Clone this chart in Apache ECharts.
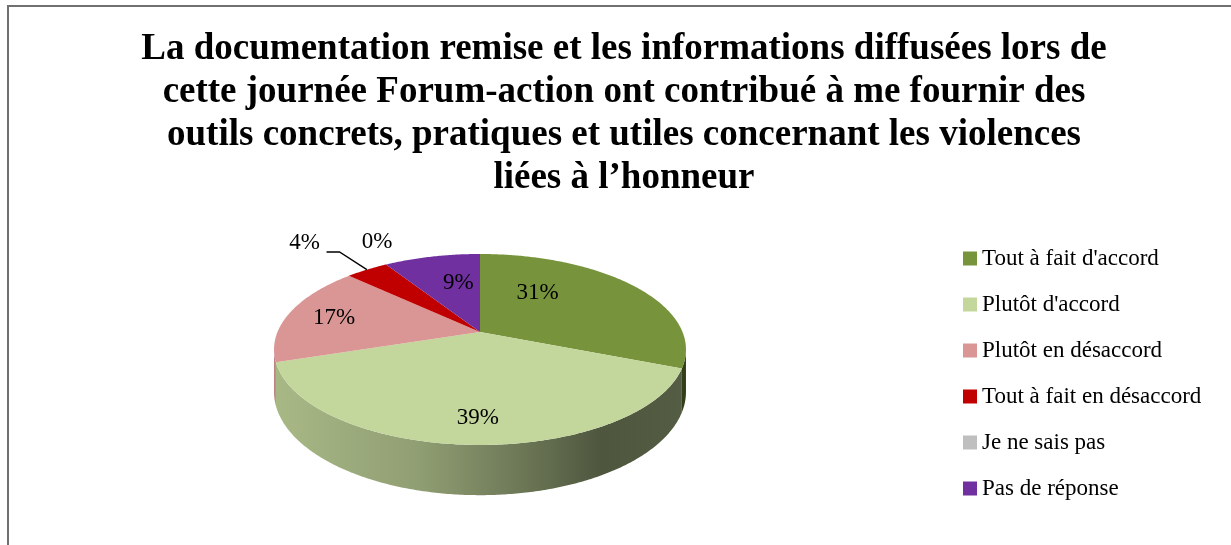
<!DOCTYPE html>
<html>
<head>
<meta charset="utf-8">
<script src="https://cdn.jsdelivr.net/npm/echarts@6/dist/echarts.min.js"></script>
<style>
  html, body { margin: 0; padding: 0; background: #fff; }
  #chart { width: 1231px; height: 545px; }
</style>
</head>
<body>
<div id="chart"></div>
<script>
const titleText = 'La documentation remise et les informations diffusées lors de\ncette journée Forum-action ont contribué à me fournir des\noutils concrets, pratiques et utiles concernant les violences\nliées à l\u2019honneur'
const categories = ["Tout à fait d'accord", "Plutôt d'accord", 'Plutôt en désaccord', 'Tout à fait en désaccord', 'Je ne sais pas', 'Pas de réponse']
const values = [31, 39, 17, 4, 0, 9]
const colors = ['#77933c', '#c3d69b', '#d99694', '#c00000', '#bfbfbf', '#7030a0']
// décalage des étiquettes, comme label.offset
const labelOffsets = [[-37, -10], [2, 24], [-30, -2], [-43, -16], [7, -11], [9, -1]]

const total = values.reduce((a, b) => a + b, 0)
const starts = values.map((_, i) => values.slice(0, i).reduce((a, b) => a + b, 0))

// camembert 3D en perspective (centre, rayons, perspective, épaisseur)
const CX = 480, CY = 332, RX = 202.5, RY = 92.3, P = 0.183, DEPTH = 41
const FONT = 'Liberation Serif'

function project(theta, f) {
  const X = f * Math.sin(theta)
  const V = -f * Math.cos(theta)
  const w = 1 - P * V
  return [CX + RX * X / w, CY + RY * V / w, w]
}

function shade(hex, k) {
  const n = parseInt(hex.slice(1), 16)
  const r = Math.round(((n >> 16) & 255) * k)
  const g = Math.round(((n >> 8) & 255) * k)
  const b = Math.round((n & 255) * k)
  return `rgb(${r},${g},${b})`
}

function sideFill(hex) {
  return {
    type: 'linear', x: CX - RX, y: 0, x2: CX + RX, y2: 0, global: true,
    colorStops: [
      { offset: 0, color: shade(hex, 0.86) },
      { offset: 0.35, color: shade(hex, 0.74) },
      { offset: 0.6, color: shade(hex, 0.56) },
      { offset: 0.8, color: shade(hex, 0.4) },
      { offset: 1, color: shade(hex, 0.43) },
    ],
  }
}

function renderSlice(i) {
  return function (params, api) {
    const v = api.value(0)
    const a0 = starts[i] / total * Math.PI * 2
    const a1 = a0 + v / total * Math.PI * 2
    const children = []

    // flanc visible (avant du disque)
    const tR = Math.acos(-P), tL = 2 * Math.PI - tR
    const s = Math.max(a0, tR), e = Math.min(a1, tL)
    if (e > s) {
      const top = [], bottom = []
      const n = Math.max(2, Math.ceil((e - s) / 0.01))
      for (let k = 0; k <= n; k++) {
        const p = project(s + (e - s) * k / n, 1)
        top.push([p[0], p[1]])
        bottom.push([p[0], p[1] + DEPTH / p[2]])
      }
      children.push({
        type: 'polygon',
        shape: { points: top.concat(bottom.reverse()) },
        style: { fill: sideFill(colors[i]) },
      })
    }

    // dessus
    if (v > 0) {
      const pts = [[CX, CY]]
      const n = Math.max(2, Math.ceil((a1 - a0) / 0.01))
      for (let k = 0; k <= n; k++) {
        const p = project(a0 + (a1 - a0) * k / n, 1)
        pts.push([p[0], p[1]])
      }
      children.push({ type: 'polygon', shape: { points: pts }, style: { fill: colors[i] } })
    }

    // étiquette
    const share = v / total
    const outside = share < 0.05
    const mid = (a0 + a1) / 2
    const base = project(mid, outside ? 1.2 : 0.6)
    const x = base[0] + labelOffsets[i][0]
    const y = base[1] + labelOffsets[i][1]
    children.push({
      type: 'text', x, y,
      style: {
        text: Math.round(share * 100) + '%',
        fontFamily: FONT, fontSize: 23, fill: '#000',
        align: 'center', verticalAlign: 'middle',
      },
    })
    if (outside && v > 0) {
      const edge = project(mid, 1)
      children.push({
        type: 'polyline',
        shape: { points: [[edge[0], edge[1]], [x + 35, y + 9], [x + 22, y + 9]] },
        style: { stroke: '#000', lineWidth: 1.3, fill: null },
      })
    }
    return { type: 'group', children }
  }
}

const series = categories.map((name, i) => ({
  name,
  type: 'custom',
  coordinateSystem: 'none',
  itemStyle: { color: colors[i] },
  data: [[values[i]]],
  renderItem: renderSlice(i),
  silent: true,
}))

const chart = echarts.init(document.getElementById('chart'), null, { renderer: 'canvas' })
chart.setOption({
  animation: false,
  backgroundColor: '#fff',
  title: {
    text: titleText,
    left: 624,
    top: 28,
    padding: 0,
    textAlign: 'center',
    textStyle: {
      fontFamily: FONT, fontWeight: 'bold', fontSize: 37,
      lineHeight: 43, color: '#000',
    },
  },
  legend: {
    data: categories,
    orient: 'vertical',
    left: 958,
    top: 242,
    icon: 'rect',
    itemWidth: 14,
    itemHeight: 14,
    itemGap: 23,
    selectedMode: false,
    textStyle: { fontFamily: FONT, fontSize: 23, color: '#000', lineHeight: 23 },
  },
  graphic: [{
    type: 'rect',
    shape: { x: 8, y: 6, width: 1240, height: 560 },
    style: { fill: null, stroke: '#707070', lineWidth: 2 },
    silent: true,
  }],
  series,
})
</script>
</body>
</html>
